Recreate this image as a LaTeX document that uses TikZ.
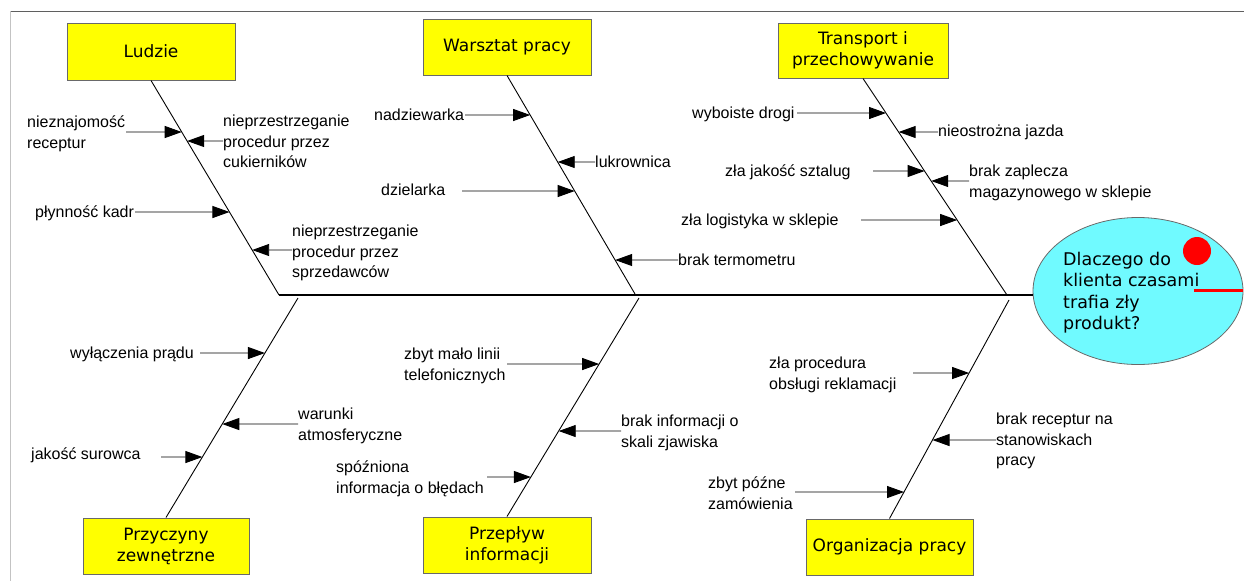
\documentclass[tikz,border=0pt]{standalone}
\usepackage{fontspec}
\setmainfont{Liberation Sans}
\newfontfamily\headfont{DejaVu Sans}
\usetikzlibrary{arrows.meta,shapes.geometric}
\definecolor{boxyellow}{RGB}{255,255,0}
\definecolor{boxedge}{RGB}{105,105,105}
\definecolor{headcyan}{RGB}{112,250,255}
\definecolor{framegray}{RGB}{95,95,95}
\definecolor{framelight}{RGB}{195,195,195}
% arrow from a tail coordinate horizontally onto a bone given by two points
\newcommand\causearrow[3]{%
  \draw[arrowline] (#1) -- (intersection cs: first line={(#1)--(#1 -| 0,0)}, second line={(#2)--(#3)});}
\begin{document}
\begin{tikzpicture}[x=1pt,y=-1pt,
  category/.style={draw=boxedge, line width=1pt, fill=boxyellow, align=center, inner sep=0pt,
    font=\headfont\fontsize{17}{21}\selectfont},
  % multi-line labels are placed by the baseline of their last line
  cause/.style={anchor=base west, align=left, inner sep=0pt, font=\fontsize{16}{20.5}\selectfont},
  bone/.style={line width=0.9pt},
  spine/.style={line width=1.4pt},
  arrowline/.style={line width=0.9pt, -{Triangle[length=17pt,width=12pt]}},
]
\useasboundingbox (0,0) rectangle (1244,581);

% frame
\draw[framegray, line width=1pt] (10,11) -- (1244,11);
\draw[framelight, line width=1pt] (10,11) -- (10,581);

% head of the fish
\node[ellipse, draw=boxedge, line width=0.8pt, fill=headcyan, minimum width=210, minimum height=147, inner sep=0pt] (ell) at (1138,291) {};
\node[anchor=base west, align=left, inner sep=0pt, font=\headfont\fontsize{17.5}{21.5}\selectfont] (question) at (1063,329.5)
  {Dlaczego do\\klienta czasami\\trafia zły\\produkt?};
\node[circle, fill=red, minimum size=28, inner sep=0pt] (dot) at (1197,251) {};
\coordinate (redline) at (1194,290);
\draw[red, line width=3pt] (redline) -- (redline -| ell.east);

% categories
\node[category, minimum width=168, minimum height=57] (lud) at (151,51.5) {Ludzie};
\node[category, minimum width=168, minimum height=56] (war) at (507,47) {Warsztat pracy};
\node[category, minimum width=170, minimum height=55] (tra) at (863,50.5) {Transport i\\przechowywanie};
\node[category, minimum width=166, minimum height=56] (ext) at (166,546) {Przyczyny\\zewnętrzne};
\node[category, minimum width=168, minimum height=56] (inf) at (507,545) {Przepływ\\informacji};
\node[category, minimum width=167, minimum height=56] (org) at (889.5,547) {Organizacja pracy};

% spine and bones
\coordinate (sp1) at (279,295);
\coordinate (sp2) at (635,294);
\coordinate (sp3) at (1007,295);
\coordinate (lo1) at (298,298);
\coordinate (lo2) at (639,298);
\coordinate (lo3) at (1009,300);
\draw[spine] (sp1) -- (sp1 -| ell.west);
\draw[bone] (lud.south) -- (sp1);
\draw[bone] (war.south) -- (sp2);
\draw[bone] (tra.south) -- (sp3);
\draw[bone] (lo1) -- (ext.north);
\draw[bone] (lo2) -- (inf.north);
\draw[bone] (lo3) -- (org.north);

% Ludzie
\node[cause] (l1) at (27,148) {nieznajomość\\receptur};
\node[cause] (l2) at (223,167.5) {nieprzestrzeganie\\procedur przez\\cukierników};
\node[cause] (l3) at (35,217.5) {płynność kadr};
\node[cause] (l4) at (292,277.5) {nieprzestrzeganie\\procedur przez\\sprzedawców};
\coordinate (tl1) at (126,132);
\coordinate (tl2) at (223,141);
\coordinate (tl3) at (135,212);
\coordinate (tl4) at (292,250);
\causearrow{tl1}{lud.south}{sp1}
\causearrow{tl2}{lud.south}{sp1}
\causearrow{tl3}{lud.south}{sp1}
\causearrow{tl4}{lud.south}{sp1}

% Warsztat pracy
\node[cause] (w1) at (374,120.5) {nadziewarka};
\node[cause] (w2) at (595,167.5) {lukrownica};
\node[cause] (w3) at (381,195.5) {dzielarka};
\node[cause] (w4) at (678,265.5) {brak termometru};
\coordinate (tw1) at (465,115);
\coordinate (tw2) at (595,162);
\coordinate (tw3) at (462,191);
\coordinate (tw4) at (678,260);
\causearrow{tw1}{war.south}{sp2}
\causearrow{tw2}{war.south}{sp2}
\causearrow{tw3}{war.south}{sp2}
\causearrow{tw4}{war.south}{sp2}

% Transport i przechowywanie
\node[cause] (t1) at (692,118.5) {wyboiste drogi};
\node[cause] (t2) at (938,136.5) {nieostrożna jazda};
\node[cause] (t3) at (725,176.5) {zła jakość sztalug};
\node[cause] (t4) at (969,197) {brak zaplecza\\magazynowego w sklepie};
\node[cause] (t5) at (681,225.5) {zła logistyka w sklepie};
\coordinate (tt1) at (797,113);
\coordinate (tt2) at (938,132);
\coordinate (tt3) at (873,171);
\coordinate (tt4) at (969,181);
\coordinate (tt5) at (861,220);
\causearrow{tt1}{tra.south}{sp3}
\causearrow{tt2}{tra.south}{sp3}
\causearrow{tt3}{tra.south}{sp3}
\causearrow{tt4}{tra.south}{sp3}
\causearrow{tt5}{tra.south}{sp3}

% Przyczyny zewnętrzne
\node[cause] (p1) at (70,358.5) {wyłączenia prądu};
\node[cause] (p2) at (298,440) {warunki\\atmosferyczne};
\node[cause] (p3) at (31,459.5) {jakość surowca};
\coordinate (tp1) at (200,353);
\coordinate (tp2) at (298,424);
\coordinate (tp3) at (161,457);
\causearrow{tp1}{lo1}{ext.north}
\causearrow{tp2}{lo1}{ext.north}
\causearrow{tp3}{lo1}{ext.north}

% Przepływ informacji
\node[cause] (i1) at (404,380) {zbyt mało linii\\telefonicznych};
\node[cause] (i2) at (621,447) {brak informacji o\\skali zjawiska};
\node[cause] (i3) at (336,493) {spóźniona\\informacja o błędach};
\coordinate (ti1) at (507,364);
\coordinate (ti2) at (621,431);
\coordinate (ti3) at (487,477);
\causearrow{ti1}{lo2}{inf.north}
\causearrow{ti2}{lo2}{inf.north}
\causearrow{ti3}{lo2}{inf.north}

% Organizacja pracy
\node[cause] (o1) at (769,389) {zła procedura\\obsługi reklamacji};
\node[cause] (o2) at (996,465.5) {brak receptur na\\stanowiskach\\pracy};
\node[cause] (o3) at (708,509) {zbyt późne\\zamówienia};
\coordinate (to1) at (913,373);
\coordinate (to2) at (996,440);
\coordinate (to3) at (795,492);
\causearrow{to1}{lo3}{org.north}
\causearrow{to2}{lo3}{org.north}
\causearrow{to3}{lo3}{org.north}
\end{tikzpicture}
\end{document}
